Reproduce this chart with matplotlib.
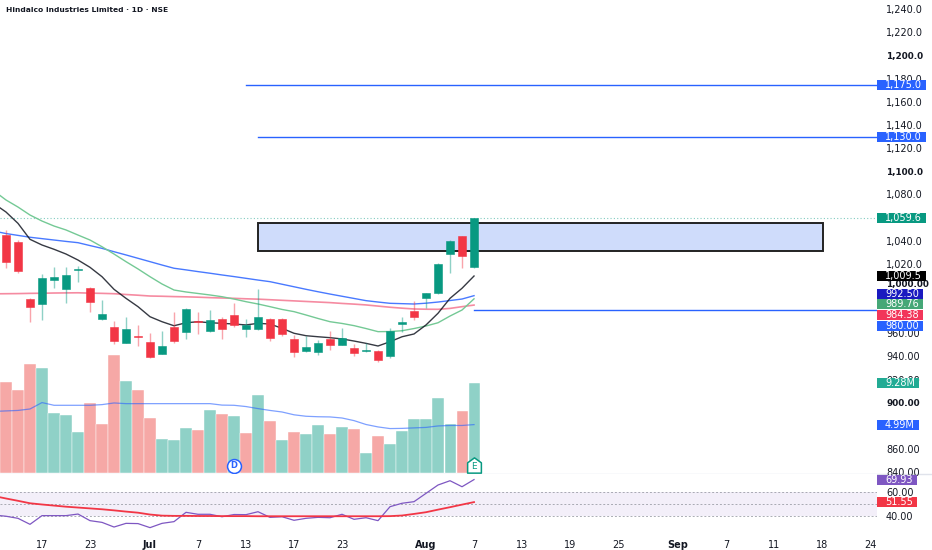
import numpy as np
import matplotlib
matplotlib.use("Agg")
from matplotlib import pyplot as plt
from matplotlib.colors import to_rgba
from matplotlib.patches import Rectangle
from matplotlib.lines import Line2D
from matplotlib.path import Path
from matplotlib.transforms import ScaledTranslation

# daily candles (last 40 sessions)
opens = [1045, 1039, 990, 985, 1006, 998.3, 1014.5, 999.4, 972, 965.4,
         952, 957.5, 952.2, 942.4, 965.4, 960.8, 970.5, 962.2, 972.1, 976.1,
         963.4, 964, 972.1, 972.3, 954.8, 944.7, 944.1, 955.1, 950.1, 947.5,
         944.6, 944.9, 940.1, 968.3, 979.5, 990.2, 995.1, 1028.5, 1044.1, 1017]
highs = [1049.3, 1040.5, 990.8, 1011.2, 1017, 1017, 1018.1, 1000, 988.8, 970.9,
         973.8, 967.2, 960, 962.2, 978.7, 981.6, 978.7, 980.1, 974.4, 985.9,
         972.1, 998.3, 973.3, 972.8, 958.5, 957.7, 954.2, 962, 964.3, 950.5,
         951.3, 945.5, 964.8, 973.8, 987.9, 995, 1020.5, 1040.3, 1044.5, 1059.6]
lows = [1016.4, 1012.1, 970, 971.5, 999.4, 985.9, 1004, 978.7, 971.5, 950.7,
        951.6, 949.3, 938.4, 942, 951.3, 954.8, 959.4, 961.4, 954.8, 965.7,
        957, 962.8, 953.6, 957.7, 939.8, 943.6, 941.2, 945.6, 949.5, 940.4,
        943.6, 935.4, 938.9, 961.4, 971.5, 982.1, 994, 1011.8, 1016.2, 1016.8]
closes = [1021.9, 1014.1, 982.5, 1008, 1008.6, 1010.4, 1015, 986.8, 976.4, 953.1,
          963.7, 957, 939.8, 949, 953.6, 980.7, 970, 971.5, 963.4, 967.5,
          967.2, 974.4, 955.9, 959.1, 944.1, 947.9, 951.3, 950.1, 955.7, 943.2,
          945, 936.6, 962.2, 970, 974.3, 994.6, 1019.9, 1039.8, 1027, 1059.6]
volumes = [9.38, 8.53, 11.2, 10.87, 6.19, 6.02, 4.27, 7.22, 5.02, 12.13,
           9.48, 8.53, 5.64, 3.51, 3.37, 4.68, 4.4, 6.53, 6.05, 5.88,
           4.12, 8.08, 5.33, 3.37, 4.27, 3.99, 4.99, 4.06, 4.74, 4.5,
           2.06, 3.86, 2.96, 4.3, 5.61, 5.61, 7.7, 5.09, 6.36, 9.28]

# indicator lines (first value is the session before the visible window)
ma_fast = [1072, 1064.8, 1055, 1041.2, 1036.3, 1032.6, 1028.5, 1023.3, 1017, 1008.9,
           998, 990.2, 983, 974.3, 970, 966.5, 969.1, 970, 969.1, 968.6,
           968, 967.2, 968.6, 968, 964.3, 960, 957.9, 957, 956.2, 955.1,
           953.3, 951.3, 949, 952.7, 957, 959.4, 967.2, 977.3, 990.2, 998.9, 1009.5]
ma_20 = [1083, 1075.2, 1069.1, 1062.2, 1057, 1052.7, 1049.3, 1044.9, 1040.6, 1034.8,
         1028.5, 1021.9, 1015.6, 1008.9, 1002.6, 997.4, 995.7, 994.4, 993.1, 991.6,
         989.6, 987.3, 985.3, 983, 980.6, 978.7, 975.8, 972.8, 970, 968.5,
         966.6, 964.1, 961.4, 961.5, 962.2, 964.1, 966.3, 969.1, 974.9, 980.1, 989.76]
ma_50 = [1048.3, 1046.2, 1044.6, 1043, 1041.8, 1040.6, 1039.4, 1038.3, 1035.8, 1033.4,
         1030.5, 1027.7, 1024.8, 1021.9, 1019, 1016.2, 1014.8, 1013.3, 1011.9, 1010.4,
         1009, 1007.5, 1006, 1004.6, 1002.4, 1000.2, 998, 995.9, 993.9, 992,
         990.1, 988.2, 987, 985.9, 985.6, 985.3, 986, 987, 988.3, 989.6, 992.5]
ma_200 = [994.1, 994.2, 994.3, 994.5, 994.6, 994.8, 994.9, 995, 994.7, 994.5,
          994.2, 993.5, 992.9, 992.2, 992, 991.7, 991.5, 991.2, 990.8, 990.5,
          990.2, 989.8, 989.5, 989, 988.5, 988, 987.5, 987, 986.5, 985.8,
          985.2, 984.5, 983.5, 982.5, 981.7, 981, 980.8, 980.7, 981.5, 983, 984.38]
vol_ma = [6.35, 6.4, 6.45, 6.6, 7.26, 6.98, 6.98, 6.98, 6.98, 7.05,
          7.22, 7.15, 7.15, 7.15, 7.15, 7.15, 7.15, 7.15, 7.15, 7.0,
          6.98, 6.85, 6.64, 6.45, 6.29, 6.0, 5.85, 5.8, 5.78, 5.67,
          5.4, 5.0, 4.75, 4.58, 4.6, 4.65, 4.7, 4.85, 4.9, 4.9, 4.99]
rsi = [41, 40, 38.3, 33.4, 40.5, 40.5, 40.5, 41.8, 36.4, 35,
       31.2, 34.2, 34, 30.7, 34.2, 35.6, 43.2, 41.6, 41.6, 39.6,
       41.4, 41.3, 43.7, 39.1, 39.6, 36.7, 38.3, 39.1, 38.8, 41.6,
       37.5, 38.8, 36.4, 47.8, 50.6, 51.9, 58.7, 65.5, 69, 64.1, 69.93]
rsi_ma = [56.5, 54.5, 52.6, 50.6, 49.6, 48.7, 47.8, 47.1, 46.4, 45.7,
          44.8, 43.8, 42.9, 41.4, 40.5, 40.3, 40.3, 40.2, 40.2, 40.1,
          40.1, 40.1, 40, 40, 40, 40, 40, 40, 40, 40,
          40, 40, 40, 40.1, 40.6, 41.9, 43.3, 45.4, 47.4, 49.5, 51.55]

# drawn levels
resist_levels = [1175, 1130]
resist_start = [20, 21]
support_level = 980
zone_low, zone_high = 1030.7, 1055
zone_start, zone_end = 21, 68.1

date_pos = [3, 7, 12, 16, 20, 24, 28, 35, 39, 43, 47, 51, 56, 60, 64, 68, 72]
date_text = ["17", "23", "Jul", "7", "13", "17", "23", "Aug", "7", "13",
             "19", "25", "Sep", "7", "11", "18", "24"]
month_text = ["Jul", "Aug", "Sep"]
# scale marks; 880, 980 and 1060 sit fully under the value tags on the original
price_ticks = [840, 860, 900, 920, 940, 960, 1000, 1020, 1040, 1080, 1100,
               1120, 1140, 1160, 1180, 1200, 1220, 1240]

TXT = "#131722"
GREEN = "#089981"
RED = "#f23645"
BLUE = "#2962ff"

def price_fmt(v):
    return f"{v:,.1f}" if v > 1000 else f"{v:,.2f}"

W, H = 932, 550
fig = plt.figure(figsize=(W / 100, H / 100), dpi=100)
ax = fig.add_axes([0, 1 - 473 / H, 877 / W, 473 / H])
ax_v = ax.twinx()
ax_r = fig.add_axes([0, 1 - 532 / H, 877 / W, 58 / H], sharex=ax)
ax_v.set_zorder(0)
ax.set_zorder(1)
ax.patch.set_visible(False)

o = np.array(opens); c = np.array(closes)
x = np.arange(len(opens))
xl = np.arange(-1, len(opens))

# volume
prev = np.r_[o[0], c[:-1]]
vcols = np.where(c >= prev, "#8fd1c7", "#f6a8a6")
ax_v.bar(x, volumes, width=0.92, color=vcols, edgecolor="white", linewidth=0.3, zorder=1)
ax_v.plot(xl, vol_ma, color=BLUE, lw=0.9, alpha=0.6, zorder=2)
ax_v.set_ylim(0, 473 / 9.7)
ax_v.axis("off")

# event markers on volume pane
ax_v.plot(19, 0.75, "o", ms=10, mfc="white", mec=BLUE, mew=1.1, zorder=5)
ax_v.text(19, 0.75, "D", color=BLUE, fontsize=6, fontweight="bold", ha="center", va="center", zorder=6)
house = Path([(-0.9, -1), (0.9, -1), (0.9, 0.35), (0, 1), (-0.9, 0.35), (-0.9, -1)],
             [Path.MOVETO, Path.LINETO, Path.LINETO, Path.LINETO, Path.LINETO, Path.CLOSEPOLY])
ax_v.plot(39, 0.85, marker=house, ms=11, mfc="white", mec=GREEN, mew=1.1, zorder=5)
ax_v.text(39, 0.7, "E", color=GREEN, fontsize=6.5, ha="center", va="center", zorder=6)

# candles
up = c >= o
ccols = np.where(up, GREEN, RED)
wick_cols = [to_rgba(cc, 0.45) for cc in ccols]
ax.vlines(x, lows, highs, colors=wick_cols, lw=1, zorder=3)
ax.bar(x, np.maximum(np.abs(c - o), 0.9), bottom=np.minimum(o, c), width=0.68,
       color=ccols, edgecolor=ccols, linewidth=0.4, zorder=4)

# moving averages
ax.plot(xl, ma_200, color="#f25a7a", lw=1.2, alpha=0.7, zorder=2)
ax.plot(xl, ma_50, color=BLUE, lw=1, alpha=0.85, zorder=2)
ax.plot(xl, ma_20, color="#74c995", lw=1, zorder=2)
ax.plot(xl, ma_fast, color=TXT, lw=1, alpha=0.85, zorder=2)

# levels and zone
for lv, st in zip(resist_levels, resist_start):
    ax.plot([st, 80], [lv, lv], color=BLUE, lw=1, zorder=2)
ax.plot([len(opens) - 1, 80], [support_level] * 2, color=BLUE, lw=1, zorder=2)
ax.add_patch(Rectangle((zone_start, zone_low), zone_end - zone_start, zone_high - zone_low,
                       facecolor="#cfdcfb", edgecolor="#222222", lw=1.4, zorder=1))
ax.axhline(closes[-1], color=GREEN, lw=0.8, ls=(0, (1, 2)), alpha=0.5, zorder=1)

ax.set_xlim(-0.5, 72.58)
ax.set_ylim(839.24, 1248.05)
ax.yaxis.tick_right()
ax.set_yticks(price_ticks)
ax.set_yticklabels([price_fmt(v) for v in price_ticks])
ax.tick_params(axis="y", length=0, pad=6.5, labelsize=7, labelcolor=TXT)
ax.tick_params(axis="x", bottom=False, labelbottom=False)
for lab, v in zip(ax.get_yticklabels(), price_ticks):
    if v % 100 == 0:
        lab.set_fontweight("bold")
        lab.set_fontsize(6.4)
    if v == 1000:
        # pushed up by the stacked tags just below it
        lab.set_transform(lab.get_transform() + ScaledTranslation(0, 2.5 / 72, fig.dpi_scale_trans))

# RSI pane
ax_r.axhspan(40, 60, color="#7e57c2", alpha=0.09, lw=0)
for lv in [40, 50, 60]:
    ax_r.axhline(lv, color="#9598a1", lw=0.7, ls=(0, (2, 2)), alpha=0.8)
ax_r.plot(xl, rsi, color="#7e57c2", lw=0.9)
ax_r.plot(xl, rsi_ma, color=RED, lw=1.3)
ax_r.set_ylim(27.14, 74.49)
ax_r.yaxis.tick_right()
ax_r.set_yticks([40, 60])
ax_r.set_yticklabels(["40.00", "60.00"])
ax_r.tick_params(axis="y", length=0, pad=6.5, labelsize=7, labelcolor=TXT)
ax_r.set_xticks(date_pos)
ax_r.set_xticklabels(date_text)
ax_r.tick_params(axis="x", length=0, pad=6, labelsize=7, labelcolor=TXT)
for lab in ax_r.get_xticklabels():
    if lab.get_text() in month_text:
        lab.set_fontweight("bold")

for a in (ax, ax_v, ax_r):
    for s in a.spines.values():
        s.set_visible(False)

fig.add_artist(Line2D([0, 1], [1 - 473.5 / H] * 2, transform=fig.transFigure,
                      color="#e0e3eb", lw=1, zorder=0))
fig.text(6 / W, 1 - 10 / H, "Hindalco Industries Limited \u00b7 1D \u00b7 NSE",
         fontsize=5.4, fontweight="bold", color=TXT, va="center")

# price tags on the scale
renderer = fig.canvas.get_renderer()

def tag(a, value, text, color, dy=0):
    ypix = a.transData.transform((0, value))[1] - dy
    t = fig.text(885 / W, ypix / H, text, color="white", fontsize=7,
                 va="center", ha="left", zorder=6)
    bb = t.get_window_extent(renderer)
    fig.add_artist(Rectangle((877 / W, (ypix - 5) / H), (bb.x1 + 4 - 877) / W, 10 / H,
                             transform=fig.transFigure, facecolor=color, edgecolor="none", zorder=5))

for lv in resist_levels:
    tag(ax, lv, price_fmt(lv), BLUE)
tag(ax, closes[-1], price_fmt(closes[-1]), GREEN)
tag(ax, ma_fast[-1], price_fmt(ma_fast[-1]), "#000000")
tag(ax, ma_50[-1], price_fmt(ma_50[-1]), "#1a1ac0", -1.7)
tag(ax, ma_20[-1], price_fmt(ma_20[-1]), "#45a777", 5)
tag(ax, ma_200[-1], price_fmt(ma_200[-1]), "#f2365a", 9.7)
tag(ax, support_level, price_fmt(support_level), BLUE, 15.5)
tag(ax_v, volumes[-1], f"{volumes[-1]:.2f}M", "#22ab94")
tag(ax_v, vol_ma[-1], f"{vol_ma[-1]:.2f}M", BLUE)
tag(ax_r, rsi[-1], f"{rsi[-1]:.2f}", "#7e57c2")
tag(ax_r, rsi_ma[-1], f"{rsi_ma[-1]:.2f}", RED)

fig.savefig("out.png", dpi=100, facecolor="white")
